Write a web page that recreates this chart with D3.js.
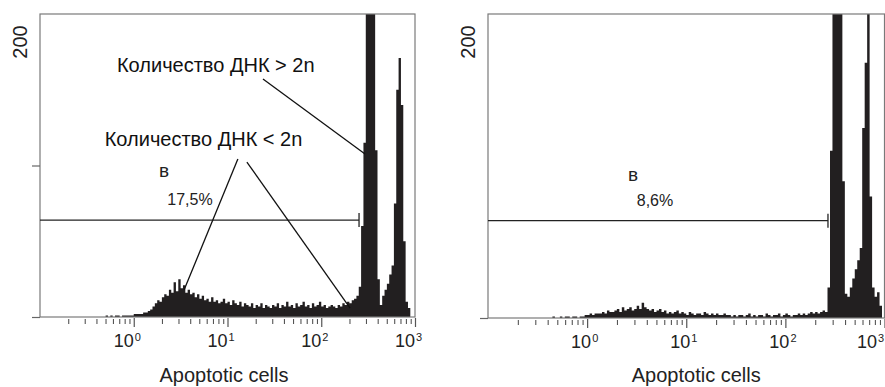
<!DOCTYPE html>
<html>
<head>
<meta charset="utf-8">
<script src="https://cdn.jsdelivr.net/npm/d3@7"></script>
<style>
  body { margin: 0; background: #fff; }
  svg { display: block; font-family: "Liberation Sans", Arial, sans-serif; }
</style>
</head>
<body>
<div id="chart"></div>
<script>
// histogram channels: 40 bins per decade starting at 10^-0.5
const binsPerDecade = 40;
const binStartExp = -0.5;

const xDomain = [0.1, 1000];
const yDomain = [0, 200];
const majorTicks = [1, 10, 100, 1000];
const majorExponents = ['0', '1', '2', '3'];
const minorTicks = [0.2, 0.3, 0.4, 0.5, 0.6, 0.7, 0.8, 0.9,
                    2, 3, 4, 5, 6, 7, 8, 9,
                    20, 30, 40, 50, 60, 70, 80, 90,
                    200, 300, 400, 500, 600, 700, 800, 900];
const axisTitle = 'Apoptotic cells';
const yLabel = '200';

// left panel counts
const countsLeft = [
  0, 0, 0, 0, 0, 0, 0, 0,
  1, 0, 1, 0, 1, 1, 0, 1, 1, 1, 1, 1,
  2, 2, 2, 2, 3, 3, 4, 5, 7, 9,
  11, 10, 13, 15, 14, 18, 16, 23, 17, 25,
  19, 21, 16, 18, 15, 16, 13, 15, 12, 14,
  11, 12, 10, 13, 10, 11, 9, 10, 12, 9,
  10, 8, 11, 9, 8, 10, 7, 9, 8, 7,
  9, 6, 8, 7, 9, 6, 8, 7, 6, 8,
  7, 9, 6, 8, 7, 10, 7, 8, 6, 9,
  7, 8, 10, 7, 8, 6, 9, 7, 8, 10,
  7, 8, 6, 7, 8, 7, 6, 8, 7, 9,
  8, 10, 9, 11, 12, 14, 20, 60, 115, 260,
  300, 300, 260, 110, 25, 8, 14, 18, 22, 28,
  34, 75, 150, 171, 140, 50, 10, 6, 0, 0
];

// right panel counts
const countsRight = [
  0, 0, 0, 0, 0,
  0, 1, 0, 0, 1, 0, 1, 1, 0, 1, 1, 0, 1, 1,
  2, 2, 3, 2, 3, 3,
  3, 4, 3, 5, 4, 4,
  5, 6, 4, 7, 5, 6, 7, 5, 6, 8,
  6, 10, 7, 6,
  5, 6, 4, 5, 6, 4, 5, 3,
  4, 3, 4, 5, 3, 4, 3, 2, 4, 3, 2, 3,
  3, 2, 4, 3, 2, 3, 2, 3, 2, 2, 3, 2,
  2, 1, 2, 1, 2, 2, 1, 2, 3, 1,
  2, 1, 2, 2, 1, 3, 2, 1, 2, 2,
  3, 1, 2, 3, 2, 1, 2, 2, 3, 2,
  3, 2, 3, 4, 3, 4,
  3, 4, 5, 4, 20, 110, 300, 300, 300, 300,
  90, 16, 14, 20, 26, 32, 38, 46, 125, 168,
  210, 80, 20, 14, 17, 8, 0
];

// gate marker and labels, in data units
const gateLeft = { from: 0.1, to: 253, y: 64 };
const gateRight = { from: 0.1, to: 269, y: 64 };
const gateLetter = 'в';
const pctLeft = '17,5%';
const pctRight = '8,6%';

// annotations (left panel only)
const noteTexts = [
  { text: 'Количество ДНК > 2n', x: 7.5, y: 161.7 },
  { text: 'Количество ДНК < 2n', x: 5.55, y: 112.9 }
];
const noteLines = [
  { x1: 23.9, y1: 157.1, x2: 293, y2: 107.6 },
  { x1: 12.9, y1: 104.3, x2: 3.44, y2: 17.8 },
  { x1: 16.1, y1: 102.3, x2: 203, y2: 5.9 }
];

const W = 885, H = 387;

const panels = [
  { left: 40, right: 415, top: 14, bottom: 317, counts: countsLeft, yTicks: [0, 100],
    gate: gateLeft, pct: pctLeft, pctAt: [3.98, 74], letterAt: [2.1, 92.4],
    labelDx: 0, titleDx: -3.5, notes: true },
  { left: 488, right: 884.5, top: 14, bottom: 318, counts: countsRight, yTicks: [0],
    gate: gateRight, pct: pctRight, pctAt: [4.84, 74], letterAt: [2.9, 90],
    labelDx: 4, titleDx: 10, notes: false }
];

const svg = d3.select('#chart').append('svg')
  .attr('width', W)
  .attr('height', H);

panels.forEach(function(p, pi) {
  const x = d3.scaleLog().domain(xDomain).range([p.left, p.right]);
  const y = d3.scaleLinear().domain(yDomain).range([p.bottom, p.top]);

  const g = svg.append('g').attr('class', 'panel');

  // clip to the frame
  const clipId = 'clip' + pi;
  g.append('clipPath').attr('id', clipId)
    .append('rect')
    .attr('x', p.left).attr('y', p.top)
    .attr('width', p.right - p.left).attr('height', p.bottom - p.top);

  // histogram bins
  const bins = p.counts.map(function(c, i) {
    return { v: Math.pow(10, binStartExp + i / binsPerDecade), c: c };
  });
  bins.push({ v: Math.pow(10, binStartExp + p.counts.length / binsPerDecade), c: p.counts[p.counts.length - 1] });

  const area = d3.area()
    .x(function(d) { return x(d.v); })
    .y0(y(0))
    .y1(function(d) { return y(d.c); })
    .curve(d3.curveStepAfter);

  g.append('path')
    .datum(bins)
    .attr('clip-path', 'url(#' + clipId + ')')
    .attr('fill', '#221f20')
    .attr('d', area);

  // frame
  g.append('rect')
    .attr('x', p.left).attr('y', p.top)
    .attr('width', p.right - p.left).attr('height', p.bottom - p.top)
    .attr('fill', 'none')
    .attr('stroke', '#7a7a7a')
    .attr('stroke-width', 1.2);

  // y axis
  const yAxis = d3.axisLeft(y).tickValues(p.yTicks).tickSize(8).tickFormat('');
  const ya = g.append('g').attr('transform', 'translate(' + p.left + ',0)').call(yAxis);
  ya.select('.domain').remove();
  ya.selectAll('line').attr('stroke', '#666').attr('stroke-width', 1.2);

  g.append('text')
    .attr('transform', 'translate(' + (p.left - 13) + ',' + (y(200) + 28) + ') rotate(-90)')
    .attr('text-anchor', 'middle')
    .attr('font-size', 20)
    .attr('fill', '#222')
    .text(yLabel);

  // x axis ticks
  const minorAxis = d3.axisBottom(x).tickValues(minorTicks).tickSize(5).tickFormat('');
  const xa = g.append('g').attr('transform', 'translate(0,' + (p.bottom + 2) + ')').call(minorAxis);
  xa.select('.domain').remove();
  xa.selectAll('line').attr('stroke', '#555').attr('stroke-width', 1.1);

  const majorAxis = d3.axisBottom(x).tickValues(majorTicks).tickSize(9).tickFormat('');
  const xb = g.append('g').attr('transform', 'translate(0,' + (p.bottom + 1) + ')').call(majorAxis);
  xb.select('.domain').remove();
  xb.selectAll('line').attr('stroke', '#555').attr('stroke-width', 1.2);

  majorTicks.forEach(function(t, i) {
    const tx = Math.min(x(t) + p.labelDx, W - 8);
    g.append('text')
      .attr('x', tx).attr('y', p.bottom + 30)
      .attr('text-anchor', 'end')
      .attr('font-size', 18)
      .attr('fill', '#222')
      .text('10');
    g.append('text')
      .attr('x', tx + 1).attr('y', p.bottom + 24)
      .attr('font-size', 11)
      .attr('fill', '#222')
      .text(majorExponents[i]);
  });

  g.append('text')
    .attr('x', (p.left + p.right) / 2 + p.titleDx)
    .attr('y', 382)
    .attr('text-anchor', 'middle')
    .attr('font-size', 20)
    .attr('fill', '#222')
    .text(axisTitle);

  // gate
  const gy = y(p.gate.y);
  g.append('line')
    .attr('x1', x(p.gate.from)).attr('x2', x(p.gate.to))
    .attr('y1', gy).attr('y2', gy)
    .attr('stroke', '#222').attr('stroke-width', 1.3);
  g.append('line')
    .attr('x1', x(p.gate.to)).attr('x2', x(p.gate.to))
    .attr('y1', gy - 7).attr('y2', gy + 7)
    .attr('stroke', '#222').attr('stroke-width', 1.3);

  g.append('text')
    .attr('x', x(p.letterAt[0])).attr('y', y(p.letterAt[1]))
    .attr('text-anchor', 'middle')
    .attr('font-size', 19)
    .attr('fill', '#222')
    .text(gateLetter);

  g.append('text')
    .attr('x', x(p.pctAt[0])).attr('y', y(p.pctAt[1]))
    .attr('text-anchor', 'middle')
    .attr('font-size', 16)
    .attr('fill', '#222')
    .text(p.pct);

  if (p.notes) {
    noteTexts.forEach(function(n) {
      g.append('text')
        .attr('x', x(n.x)).attr('y', y(n.y))
        .attr('text-anchor', 'middle')
        .attr('font-size', 20)
        .attr('fill', '#111')
        .text(n.text);
    });
    noteLines.forEach(function(l) {
      g.append('line')
        .attr('x1', x(l.x1)).attr('y1', y(l.y1))
        .attr('x2', x(l.x2)).attr('y2', y(l.y2))
        .attr('stroke', '#111').attr('stroke-width', 1.3);
    });
  }
});
</script>
</body>
</html>
